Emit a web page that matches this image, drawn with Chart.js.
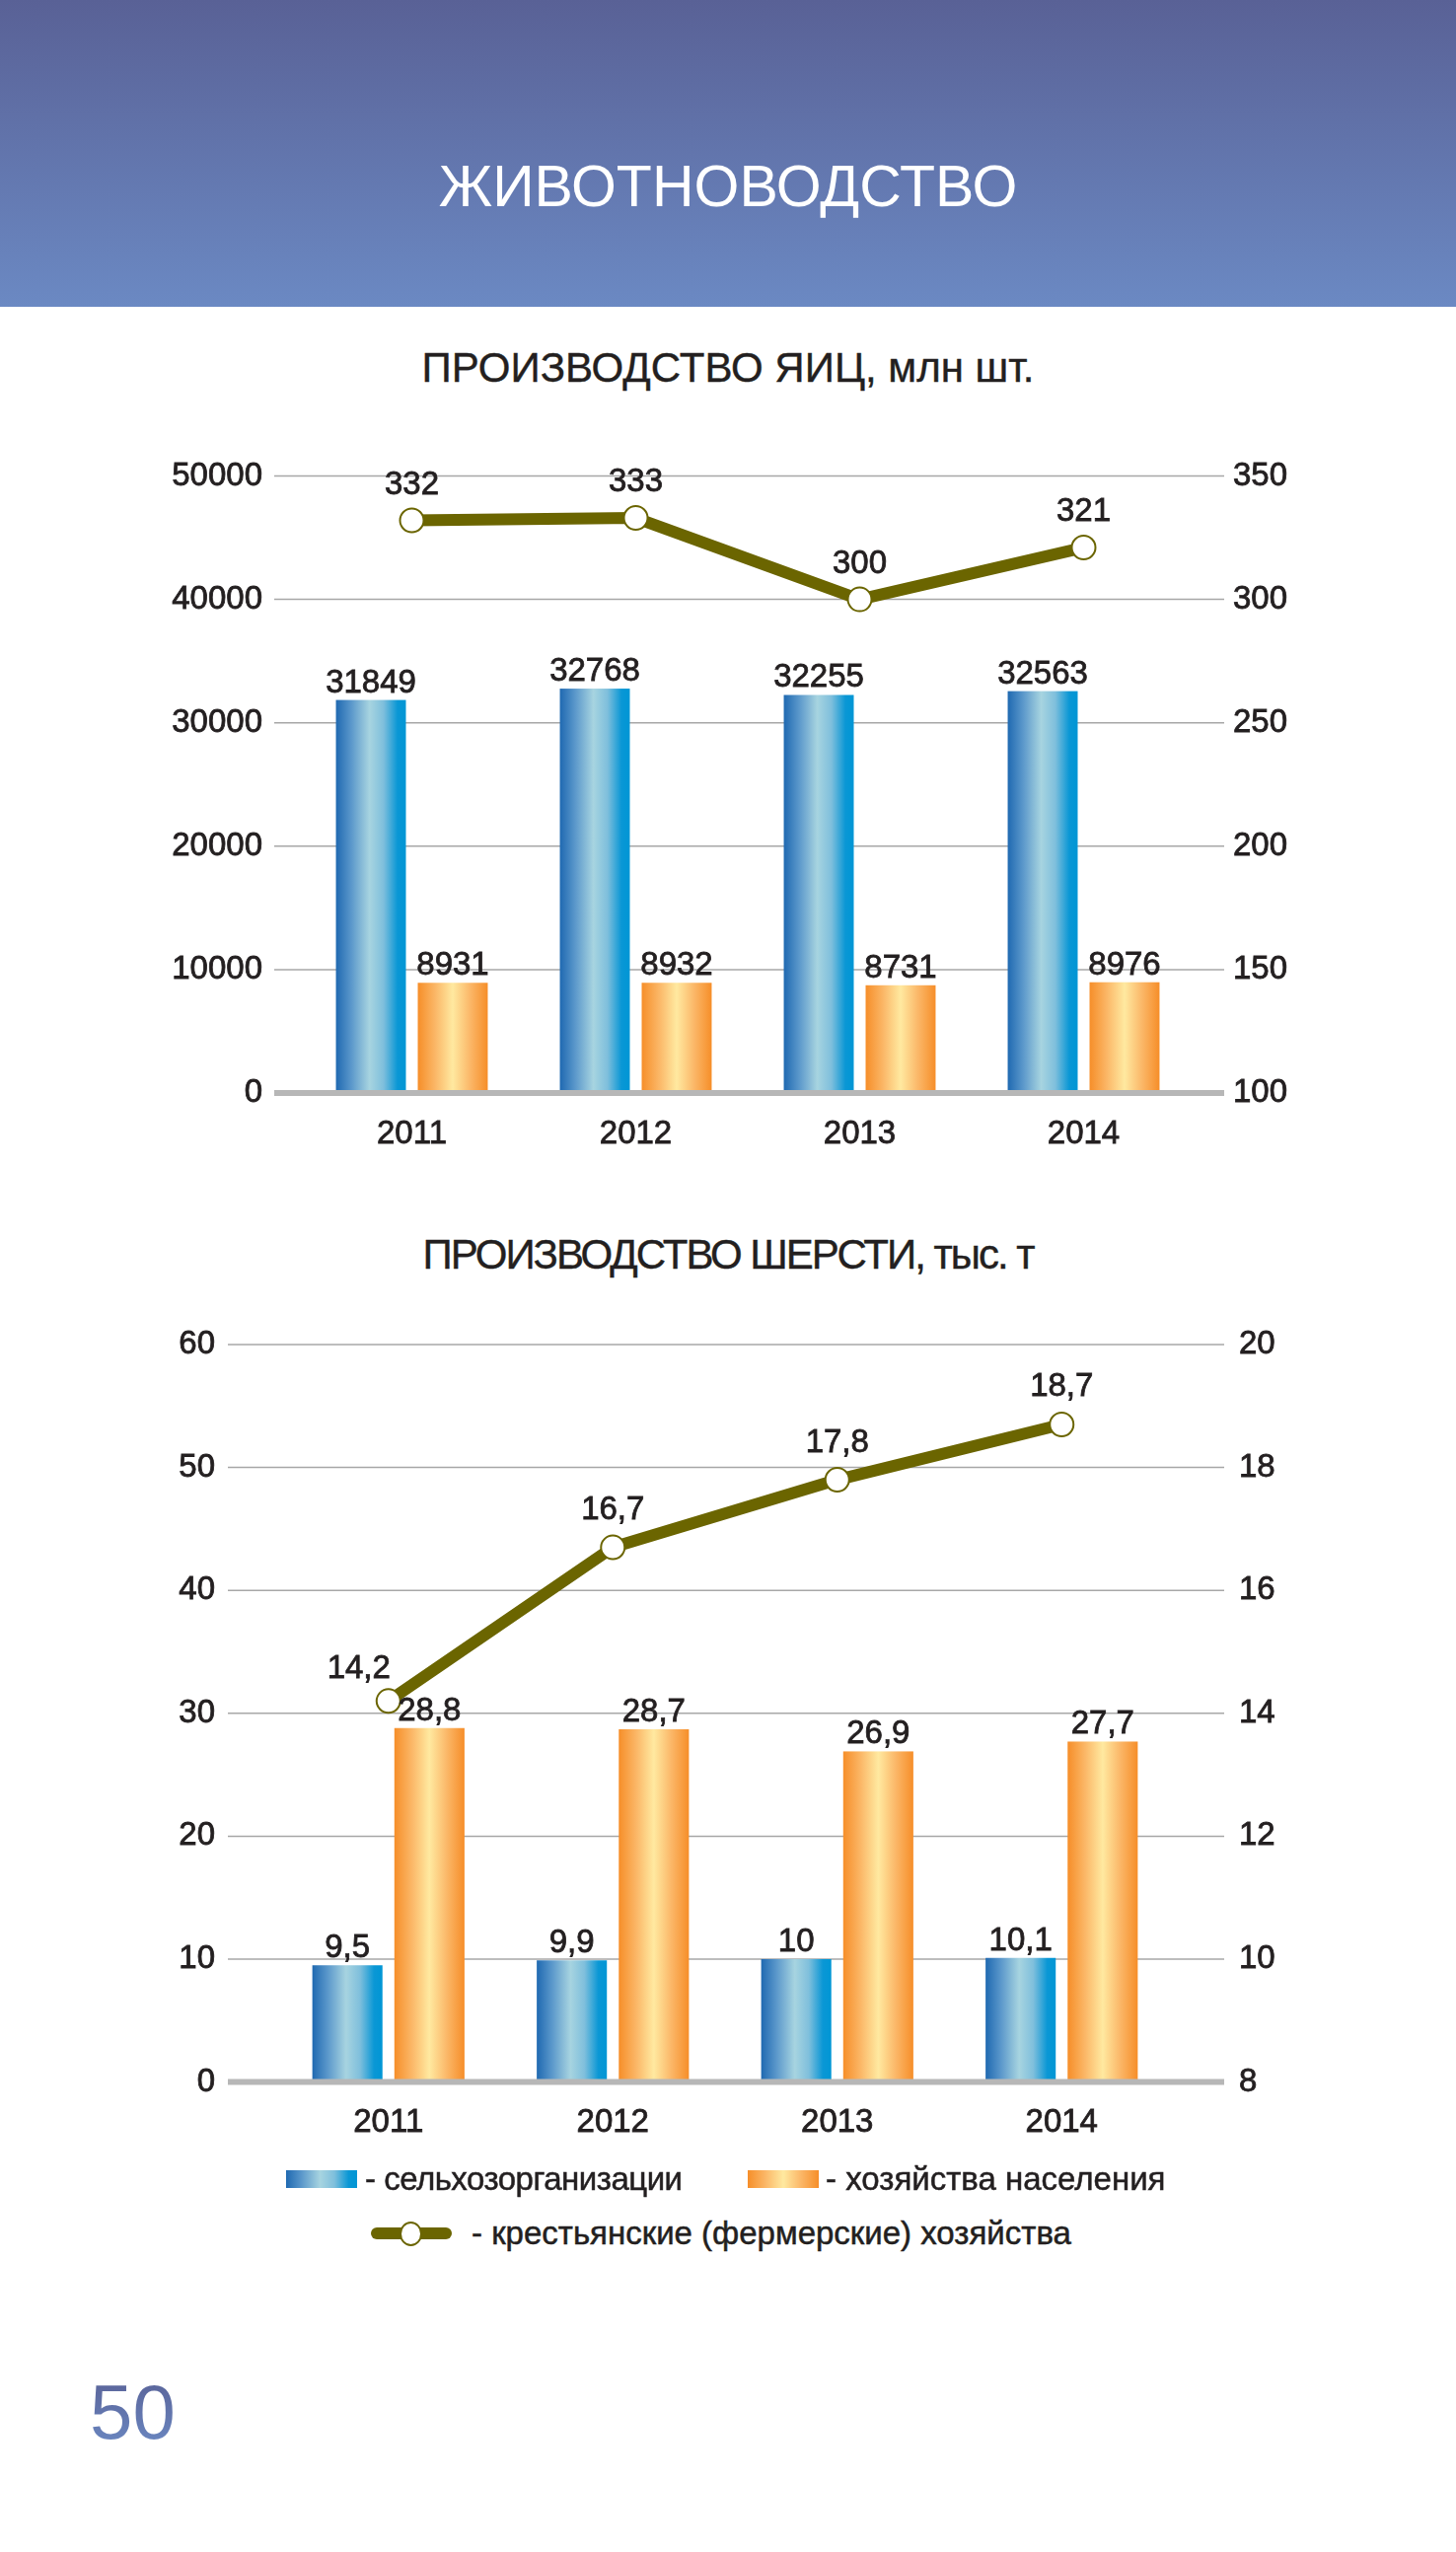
<!DOCTYPE html>
<html>
<head>
<meta charset="utf-8">
<script src="https://cdn.jsdelivr.net/npm/chart.js@4.4.1/dist/chart.umd.min.js"></script>
<style>
body{margin:0;width:1476px;height:2587px;position:relative;background:#fff;font-family:"Liberation Sans",Arial,sans-serif;color:#231f20;overflow:hidden}
.abs{position:absolute;white-space:nowrap;line-height:1}
#head{left:0;top:0;width:1476px;height:311px;background:linear-gradient(#596196,#6b89c3)}
#headTitle{left:0;width:1476px;top:160px;text-align:center;color:#fff;font-size:59px}
.ctitle{left:0;width:1476px;text-align:center;font-size:42px;-webkit-text-stroke:0.4px #231f20}
canvas{position:absolute;left:0}
.leg{font-size:33px;-webkit-text-stroke:0.5px #231f20}
.sw{position:absolute;width:72px;height:18px}
#pageNo{left:91px;top:2406px;font-size:78px;background:linear-gradient(#596196,#6b89c3);-webkit-background-clip:text;background-clip:text;color:transparent}
</style>
</head>
<body>
<div id="head" class="abs"></div>
<div id="headTitle" class="abs">ЖИВОТНОВОДСТВО</div>

<div class="abs ctitle" style="top:352px">ПРОИЗВОДСТВО ЯИЦ, млн шт.</div>
<canvas id="eggs" width="1476" height="740" style="top:440px"></canvas>

<div class="abs ctitle" style="top:1251px;letter-spacing:-2px">ПРОИЗВОДСТВО ШЕРСТИ, тыс. т</div>
<canvas id="wool" width="1476" height="900" style="top:1300px"></canvas>

<div class="sw" style="left:290px;top:2200px;background:linear-gradient(to right,#1f69b1,#5b98cb 22%,#a7d4e0 48%,#7fbfdc 68%,#0a97d5 88%,#0096d5)"></div>
<div class="abs leg" style="left:370px;top:2192px;letter-spacing:-0.5px">- сельхозорганизации</div>
<div class="sw" style="left:758px;top:2200px;background:linear-gradient(to right,#f68e29,#fbb767 25%,#ffe9a0 50%,#fbb768 75%,#f68e29)"></div>
<div class="abs leg" style="left:837px;top:2192px">- хозяйства населения</div>
<div class="abs" style="left:376px;top:2258px;width:82px;height:12px;border-radius:6px;background:#6b6500"></div>
<div class="abs" style="left:405px;top:2252px;width:19px;height:21px;border-radius:50%;border:2px solid #6b6500;background:#fff"></div>
<div class="abs leg" style="left:478px;top:2247px">- крестьянские (фермерские) хозяйства</div>

<div id="pageNo" class="abs">50</div>

<script>
// годы
const years = ['2011', '2012', '2013', '2014'];

// яйца, млн шт.
const eggsAgro = [31849, 32768, 32255, 32563];
const eggsHouse = [8931, 8932, 8731, 8976];
const eggsFarm = [332, 333, 300, 321];
const eggsLeftTicks = [0, 10000, 20000, 30000, 40000, 50000];
const eggsRightTicks = [100, 150, 200, 250, 300, 350];

// шерсть, тыс. т
const woolAgro = [9.5, 9.9, 10, 10.1];
const woolHouse = [28.8, 28.7, 26.9, 27.7];
const woolFarm = [14.2, 16.7, 17.8, 18.7];
const woolLeftTicks = [0, 10, 20, 30, 40, 50, 60];
const woolRightTicks = [8, 10, 12, 14, 16, 18, 20];

const TXT = '#231f20';
const OLIVE = '#6b6500';
const FONT = '"Liberation Sans", Arial, sans-serif';
const blueStops = [[0, '#1f69b1'], [0.22, '#5b98cb'], [0.48, '#a7d4e0'], [0.68, '#7fbfdc'], [0.88, '#0a97d5'], [1, '#0096d5']];
const orangeStops = [[0, '#f68e29'], [0.25, '#fbb767'], [0.5, '#ffe9a0'], [0.75, '#fbb768'], [1, '#f68e29']];

// градиентные столбики
const gradBars = {
    id: 'gradBars',
    beforeDatasetDraw(chart, args) {
        const meta = args.meta;
        if (meta.type !== 'bar') return;
        const stops = chart.data.datasets[args.index].stops;
        const c = chart.ctx;
        c.save();
        meta.data.forEach(function (el) {
            const l = el.x - el.width / 2;
            const g = c.createLinearGradient(l, 0, l + el.width, 0);
            stops.forEach(function (s) { g.addColorStop(s[0], s[1]); });
            c.fillStyle = g;
            c.fillRect(l, el.y, el.width, el.base - el.y);
        });
        c.restore();
        return false;
    }
};

// сетка шире области графика
const wideGrid = {
    id: 'wideGrid',
    beforeDatasetsDraw(chart, args, opts) {
        const c = chart.ctx;
        const y = chart.scales.y;
        c.save();
        c.strokeStyle = '#a7a7a7';
        c.lineWidth = 1.5;
        y.ticks.forEach(function (t) {
            if (t.value === y.min) return;
            const py = y.getPixelForValue(t.value);
            c.beginPath();
            c.moveTo(opts.left, py);
            c.lineTo(opts.right, py);
            c.stroke();
        });
        c.restore();
    },
    afterDatasetsDraw(chart, args, opts) {
        const c = chart.ctx;
        const y = chart.scales.y;
        const py = y.getPixelForValue(y.min);
        c.save();
        c.strokeStyle = '#b7b7b7';
        c.lineWidth = 6;
        c.beginPath();
        c.moveTo(opts.left, py);
        c.lineTo(opts.right, py);
        c.stroke();
        c.restore();
    }
};

// подписи значений
const valueLabels = {
    id: 'valueLabels',
    afterDraw(chart, args, opts) {
        const c = chart.ctx;
        c.save();
        c.font = '33px ' + FONT;
        c.fillStyle = TXT;
        c.strokeStyle = TXT;
        c.lineWidth = 0.8;
        c.textAlign = 'center';
        c.textBaseline = 'alphabetic';
        chart.data.datasets.forEach(function (ds, i) {
            const meta = chart.getDatasetMeta(i);
            meta.data.forEach(function (el, j) {
                let txt = String(ds.data[j]);
                if (opts.comma) txt = txt.replace('.', ',');
                let x = el.x, y;
                if (meta.type === 'bar') {
                    y = el.y - 8;
                } else {
                    x += ds.labelDx ? ds.labelDx[j] : 0;
                    y = el.y - (ds.labelDy ? ds.labelDy[j] : opts.lineDy);
                }
                c.strokeText(txt, x, y);
                c.fillText(txt, x, y);
            });
        });
        c.restore();
    }
};

function makeChart(id, cfg) {
    const tickFont = { family: FONT, size: 33 };
    const tickBase = { font: tickFont, color: TXT, textStrokeColor: TXT, textStrokeWidth: 0.8 };
    function fixY(width) {
        return function (s) {
            s.width = width;
            s.paddingTop = 0;
            s.paddingBottom = 0;
        };
    }
    const data = {
        labels: years,
        datasets: [
            {
                type: 'line',
                data: cfg.farm,
                yAxisID: 'y1',
                order: 0,
                borderColor: OLIVE,
                borderWidth: 12,
                borderCapStyle: 'round',
                borderJoinStyle: 'round',
                pointRadius: 12,
                pointBorderWidth: 2,
                pointBackgroundColor: '#fff',
                pointBorderColor: OLIVE,
                labelDx: cfg.lineDx,
                labelDy: cfg.lineDyArr
            },
            {
                type: 'bar',
                data: cfg.agro,
                yAxisID: 'y',
                order: 1,
                backgroundColor: '#0096d5',
                stops: blueStops,
                categoryPercentage: 0.731,
                barPercentage: 0.855
            },
            {
                type: 'bar',
                data: cfg.house,
                yAxisID: 'y',
                order: 1,
                backgroundColor: '#f68e29',
                stops: orangeStops,
                categoryPercentage: 0.731,
                barPercentage: 0.855
            }
        ]
    };
    const config = {
        type: 'bar',
        data: data,
        options: {
            responsive: false,
            animation: false,
            events: [],
            layout: { autoPadding: false, padding: { top: cfg.top, left: 0, right: 0, bottom: 0 } },
            plugins: {
                legend: { display: false },
                tooltip: { enabled: false },
                wideGrid: { left: cfg.gridLeft, right: cfg.gridRight },
                valueLabels: { comma: cfg.comma, lineDy: cfg.lineDy }
            },
            scales: {
                x: {
                    grid: { display: false, drawTicks: false },
                    border: { display: false },
                    ticks: Object.assign({ padding: 22, maxRotation: 0, autoSkip: false }, tickBase),
                    afterFit: function (s) { s.height = cfg.xHeight; }
                },
                y: {
                    position: 'left',
                    min: cfg.leftTicks[0],
                    max: cfg.leftTicks[cfg.leftTicks.length - 1],
                    grid: { display: false, drawTicks: false },
                    border: { display: false },
                    ticks: Object.assign({ padding: cfg.leftPad, callback: function (v) { return String(v); } }, tickBase),
                    afterBuildTicks: function (s) { s.ticks = cfg.leftTicks.map(function (v) { return { value: v }; }); },
                    afterFit: fixY(cfg.leftWidth)
                },
                y1: {
                    position: 'right',
                    min: cfg.rightTicks[0],
                    max: cfg.rightTicks[cfg.rightTicks.length - 1],
                    grid: { display: false, drawTicks: false },
                    border: { display: false },
                    ticks: Object.assign({ padding: cfg.rightPad, callback: function (v) { return String(v); } }, tickBase),
                    afterBuildTicks: function (s) { s.ticks = cfg.rightTicks.map(function (v) { return { value: v }; }); },
                    afterFit: fixY(cfg.rightWidth)
                }
            }
        },
        plugins: [gradBars, wideGrid, valueLabels]
    };
    return new Chart(document.getElementById(id).getContext('2d'), config);
}

makeChart('eggs', {
    agro: eggsAgro, house: eggsHouse, farm: eggsFarm,
    leftTicks: eggsLeftTicks, rightTicks: eggsRightTicks,
    top: 42.5, xHeight: 72,
    leftWidth: 304, leftPad: 38, rightWidth: 264, rightPad: 38,
    gridLeft: 278, gridRight: 1241,
    comma: false, lineDy: 27
});

makeChart('wool', {
    agro: woolAgro, house: woolHouse, farm: woolFarm,
    leftTicks: woolLeftTicks, rightTicks: woolRightTicks,
    top: 63, xHeight: 89.4,
    leftWidth: 280, leftPad: 62, rightWidth: 286, rightPad: 66,
    gridLeft: 231, gridRight: 1241,
    comma: true, lineDy: 28.5,
    lineDx: [-30, 0, 0, 0], lineDyArr: [23.5, 28.5, 28.5, 28.5]
});
</script>
</body>
</html>
